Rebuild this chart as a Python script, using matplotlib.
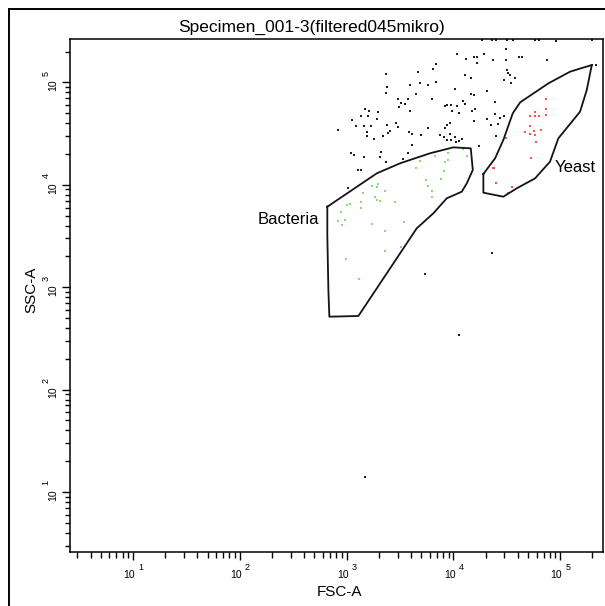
import numpy as np
import matplotlib
matplotlib.use("Agg")
import matplotlib.pyplot as plt
from matplotlib.lines import Line2D
from matplotlib.ticker import LogLocator, NullFormatter, FixedLocator

plt.rcParams['font.family'] = ['Liberation Sans', 'DejaVu Sans']

title = "Specimen_001-3(filtered045mikro)"
x_label = "FSC-A"
y_label = "SSC-A"
decades = [1, 2, 3, 4, 5]

# events, stored as log10 values
# ungated events (black)
black_lfsc = [4.03, 4.19, 4.22, 4.29, 4.37, 4.49, 4.49, 4.61, 4.64, 4.12, 4.22, 3.84, 3.67, 3.37,
              3.81, 4.11, 4.16, 4.50, 4.51, 4.53, 4.47, 4.54, 4.58, 3.59, 3.69, 3.76, 3.84, 4.01,
              3.37, 3.38, 3.65, 4.16, 4.19, 4.31, 3.48, 3.57, 3.80, 3.51, 3.49, 3.59, 3.55, 3.92,
              3.94, 3.98, 4.03, 4.09, 4.11, 4.05, 3.99, 4.20, 4.17, 4.39, 4.39, 4.44, 4.47, 3.17,
              3.21, 3.13, 3.20, 3.29, 3.05, 3.28, 3.09, 3.16, 3.23, 3.38, 3.46, 3.48, 3.41, 3.39,
              2.92, 3.19, 3.19, 3.34, 3.26, 3.58, 3.61, 3.70, 3.76, 3.94, 3.97, 3.92, 4.19, 4.31,
              4.35, 4.42, 3.87, 3.91, 3.97, 4.01, 3.98, 4.02, 4.08, 3.94, 4.05, 3.61, 4.24, 4.40,
              3.04, 3.07, 3.16, 3.31, 3.32, 3.57, 3.53, 3.11, 3.13, 3.37, 3.01,
              4.27, 4.36, 4.40, 4.50, 4.555, 4.76, 4.80, 5.30, 4.88, 4.96, 5.30, 5.33,
              3.73, 4.05, 4.36, 3.17]
black_lssc = [5.28, 5.25, 5.25, 5.28, 5.22, 5.33, 5.22, 5.25, 5.25, 5.23, 5.19, 5.18, 5.10, 5.08,
              5.13, 5.07, 5.04, 5.12, 5.09, 5.07, 5.02, 4.99, 5.04, 4.97, 4.99, 4.97, 5.00, 4.94,
              4.90, 4.96, 4.89, 4.89, 4.88, 4.92, 4.84, 4.84, 4.84, 4.80, 4.76, 4.72, 4.79, 4.77,
              4.78, 4.78, 4.77, 4.82, 4.79, 4.70, 4.72, 4.74, 4.72, 4.81, 4.69, 4.65, 4.67, 4.74,
              4.72, 4.67, 4.67, 4.71, 4.63, 4.64, 4.57, 4.57, 4.57, 4.58, 4.60, 4.56, 4.53, 4.51,
              4.54, 4.52, 4.48, 4.48, 4.45, 4.52, 4.50, 4.49, 4.55, 4.58, 4.60, 4.55, 4.62, 4.64,
              4.58, 4.59, 4.49, 4.47, 4.50, 4.47, 4.44, 4.42, 4.45, 4.44, 4.43, 4.39, 4.38, 4.48,
              4.31, 4.29, 4.27, 4.27, 4.32, 4.31, 4.25, 4.14, 4.14, 4.22, 3.97,
              5.41, 5.41, 5.41, 5.41, 5.41, 5.41, 5.41, 5.41, 5.22, 5.40, 5.17, 5.17,
              3.13, 2.53, 3.33, 1.15]

# Bacteria gate events (green)
bact_lfsc = [2.95, 2.98, 2.92, 2.96, 3.00, 3.03, 3.13, 3.13, 3.15, 3.24, 3.28, 3.29, 3.36, 3.27,
             3.28, 3.31, 3.45, 3.24, 3.36, 3.54, 2.99, 3.36, 3.51, 3.12, 3.65, 3.69, 3.74, 3.76,
             3.80, 3.80, 3.88, 3.91, 3.92, 3.95, 3.83, 3.95, 4.09, 4.13]
bact_lssc = [3.73, 3.66, 3.65, 3.61, 3.80, 3.81, 3.83, 3.77, 3.92, 3.99, 3.98, 4.01, 3.94, 3.88,
             3.85, 3.84, 3.83, 3.62, 3.55, 3.64, 3.28, 3.35, 3.39, 3.08, 4.16, 4.23, 4.05, 3.99,
             3.94, 3.88, 4.06, 4.13, 4.22, 4.24, 4.28, 4.31, 4.35, 4.28]

# Yeast gate events (red)
yeast_lfsc = [4.87, 4.87, 4.87, 4.76, 4.72, 4.76, 4.80, 4.72, 4.67, 4.72, 4.75, 4.82, 4.76, 4.77,
              4.49, 4.73, 4.37, 4.38, 4.40, 4.55, 4.51]
yeast_lssc = [4.835, 4.74, 4.68, 4.71, 4.67, 4.67, 4.67, 4.57, 4.52, 4.50, 4.53, 4.54, 4.49, 4.42,
              4.46, 4.26, 4.16, 4.16, 4.02, 3.98, 3.92]

# gate outlines (log10 FSC, log10 SSC)
bact_gate_lfsc = [2.819, 3.282, 3.500, 3.781, 3.999, 4.162, 4.181, 4.125, 4.078, 3.937, 3.812,
                  3.656, 3.110, 2.838, 2.829, 2.819]
bact_gate_lssc = [3.786, 4.112, 4.210, 4.308, 4.366, 4.356, 4.145, 4.015, 3.933, 3.868, 3.722,
                  3.575, 2.719, 2.712, 2.973, 3.510]
yeast_gate_lfsc = [4.280, 4.280, 4.467, 4.593, 4.764, 4.904, 4.982, 5.185, 5.248, 5.295, 5.092,
                   4.889, 4.624, 4.555, 4.467, 4.390, 4.296]
yeast_gate_lssc = [4.105, 3.923, 3.884, 3.966, 4.063, 4.226, 4.454, 4.714, 4.926, 5.170, 5.105,
                   4.991, 4.805, 4.698, 4.438, 4.259, 4.128]

gate_names = ["Bacteria", "Yeast"]

W, H = 605, 606
PT = 0.72  # points per pixel at dpi 100
fig = plt.figure(figsize=(W / 100, H / 100), dpi=100)
ax = fig.add_axes([70 / W, 1 - 552 / H, (603 - 70) / W, (552 - 39) / H])

ax.set_xscale('log')
ax.set_yscale('log')
ax.set_xlim(10 ** 0.41, 10 ** 5.40)
ax.set_ylim(10 ** 0.414, 10 ** 5.424)

ms = 1.7
ax.plot(10 ** np.array(black_lfsc), 10 ** np.array(black_lssc), 's', ms=ms, mew=0,
        color='#1e1e1e', clip_on=False)
ax.plot(10 ** np.array(bact_lfsc), 10 ** np.array(bact_lssc), 's', ms=ms, mew=0, color='#86dc6e')
ax.plot(10 ** np.array(yeast_lfsc), 10 ** np.array(yeast_lssc), 's', ms=ms, mew=0, color='#ff4d4d')

for gx, gy in [(bact_gate_lfsc, bact_gate_lssc), (yeast_gate_lfsc, yeast_gate_lssc)]:
    gx = 10 ** np.array(gx + gx[:1])
    gy = 10 ** np.array(gy + gy[:1])
    ax.plot(gx, gy, '-', color='#141414', lw=1.3)

ax.text(10 ** 2.45, 10 ** 3.66, gate_names[0], fontsize=12, ha='center', va='center')
ax.text(10 ** 4.95, 10 ** 4.17, gate_names[1], fontsize=12, ha='left', va='center')

# ticks: major at decades, minor 2..9
for axis in (ax.xaxis, ax.yaxis):
    axis.set_major_locator(FixedLocator([10 ** d for d in decades]))
    axis.set_minor_locator(LogLocator(base=10, subs=np.arange(2, 10), numticks=20))
    axis.set_major_formatter(NullFormatter())
    axis.set_minor_formatter(NullFormatter())
ax.tick_params(which='both', direction='out', color='black', width=1)
ax.tick_params(which='major', length=8 * PT)
ax.tick_params(which='minor', length=5.5 * PT)
for s in ax.spines.values():
    s.set_linewidth(1.1)

# decade labels: "10" with a raised exponent of almost the same size
for d in decades:
    ax.annotate("10", xy=(10 ** d, 0), xycoords=('data', 'axes fraction'),
                xytext=(2 * PT, -23 * PT), textcoords='offset points',
                ha='right', va='center', fontsize=7.5)
    ax.annotate(str(d), xy=(10 ** d, 0), xycoords=('data', 'axes fraction'),
                xytext=(5 * PT, -15 * PT), textcoords='offset points',
                ha='left', va='center', fontsize=6.5)
    ax.annotate("10", xy=(0, 10 ** d), xycoords=('axes fraction', 'data'),
                xytext=(-17 * PT, -3 * PT), textcoords='offset points',
                ha='center', va='center', fontsize=7.5, rotation=90)
    ax.annotate(str(d), xy=(0, 10 ** d), xycoords=('axes fraction', 'data'),
                xytext=(-24 * PT, 9 * PT), textcoords='offset points',
                ha='center', va='center', fontsize=6.5, rotation=90)

fig.text(312 / W, 1 - 27 / H, title, fontsize=12.5, ha='center', va='center')
fig.text(340 / W, 1 - 592 / H, x_label, fontsize=11, ha='center', va='center')
fig.text(31 / W, 1 - 290 / H, y_label, fontsize=11, ha='center', va='center', rotation=90)

# outer frame of the original window
fig.add_artist(Line2D([9 / W, 9 / W], [0, 1 - 8.5 / H], color='black', lw=1.4))
fig.add_artist(Line2D([9 / W, 1], [1 - 8.5 / H, 1 - 8.5 / H], color='black', lw=1.4))

fig.savefig('out.png', dpi=100)
